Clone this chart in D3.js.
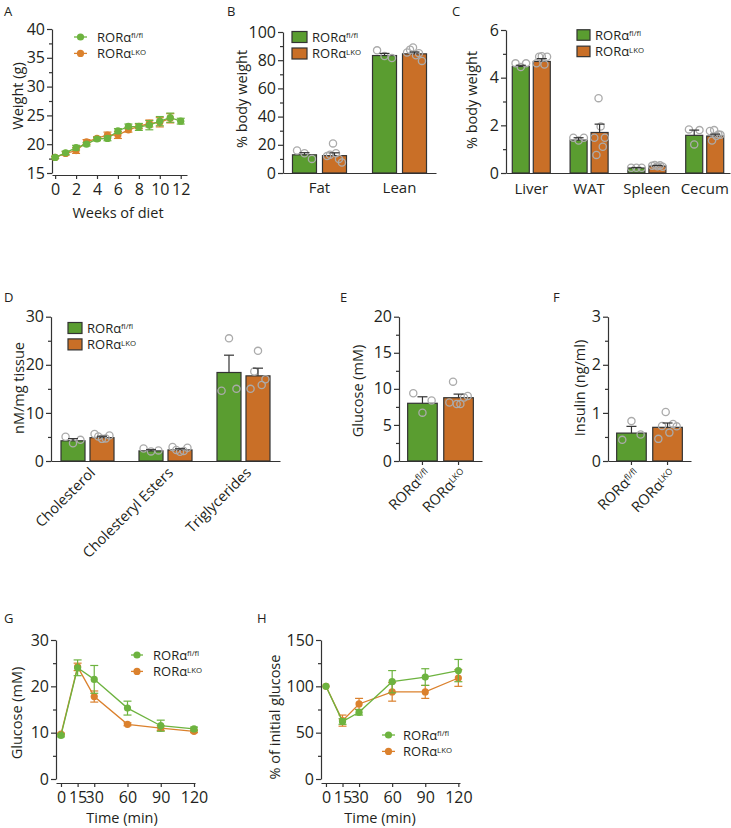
<!DOCTYPE html>
<html><head><meta charset="utf-8">
<script src="https://cdn.jsdelivr.net/npm/d3@7"></script>
<style>
body{margin:0;background:#fff}
svg text{font-family:"Open Sans",sans-serif;fill:#231f20}
.tick text{font-size:16px}
.axis path,.axis line{stroke:#333;stroke-width:1.2}
</style></head><body>
<svg id="c" width="731" height="828"></svg>
<script>
// ---------------- data ----------------
const genotypes = ["fl/fl", "LKO"];

// A: body weight
const weeks = [0,1,2,3,4,5,6,7,8,9,10,11,12];
const weightFl    = [17.7,18.5,19.4,20.0,20.9,21.0,22.3,23.1,23.0,23.3,24.0,24.6,24.0];
const weightFlErr = [0.2,0.3,0.4,0.3,0.3,0.4,0.4,0.4,0.6,0.8,0.8,0.8,0.5];
const weeksLko = [0,1,2,3,4,5,6,7,8,9,10,11];
const weightLko    = [17.7,18.4,18.9,20.4,21.0,21.6,21.6,22.5,23.1,23.6,23.8,24.5];
const weightLkoErr = [0.2,0.3,0.5,0.4,0.3,0.5,0.6,0.4,0.4,0.6,0.8,0.8];
const weekTicks = [0,2,4,6,8,10,12];
const weightTicks = [15,20,25,30,35,40];
const weightMinor = [17.5,22.5,27.5,32.5,37.5];

// B: body composition
const bodyCats = ["Fat","Lean"];
const bodyFl = [12.9, 83.3];
const bodyFlErr = [1.5, 1.5];
const bodyLko = [12.3, 84.5];
const bodyLkoErr = [2.0, 1.3];
const bodyFlPts = [[16,14,10],[87,83,81.5]];
const bodyLkoPts = [[12,13,21,14,10,7.5],[85.5,87.5,89,83.5,85,79.5]];
const bodyTicks = [0,20,40,60,80,100];
const bodyMinor = [10,30,50,70,90];

// C: organ weights
const organCats = ["Liver","WAT","Spleen","Cecum"];
const organFl = [4.47,1.38,0.21,1.58];
const organFlErr = [0.05,0.1,0.02,0.22];
const organLko = [4.68,1.7,0.29,1.55];
const organLkoErr = [0.12,0.35,0.03,0.08];
const organFlPts = [[4.6,4.45,4.6],[1.48,1.36,1.48],[0.22,0.22,0.22],[1.83,1.2,1.8]];
const organLkoPts = [[4.6,4.88,4.9,4.55,4.88],[1.48,0.76,3.14,1.95,1.1,1.48],[0.3,0.34,0.28,0.32,0.26],[1.76,1.36,1.8,1.55,1.62,1.6]];
const organTicks = [0,2,4,6];
const organMinor = [1,3,5];

// D: hepatic lipids
const lipidCats = ["Cholesterol","Cholesteryl Esters","Triglycerides"];
const lipidFl = [4.2,2.1,18.4];
const lipidFlErr = [0.45,0.25,3.6];
const lipidLko = [4.85,2.3,17.7];
const lipidLkoErr = [0.3,0.25,1.6];
const lipidFlPts = [[5.05,3.7,4.4],[2.6,2.0,2.2],[14.6,25.5,15.0]];
const lipidLkoPts = [[5.6,5.1,4.6,4.7,5.3],[2.9,2.3,1.9,2.1,2.75],[15.0,18.6,22.9,15.8,17.0]];
const lipidTicks = [0,10,20,30];
const lipidMinor = [5,15,25];

// E: fasting glucose
const gluVals = [8.0, 8.77];
const gluErr = [0.9, 0.5];
const gluPts = [[9.4,6.7,8.4],[8.1,11.0,7.9,7.9,8.8,9.0]];
const gluTicks = [0,5,10,15,20];
const gluMinor = [2.5,7.5,12.5,17.5];

// F: insulin
const insVals = [0.58, 0.70];
const insErr = [0.14, 0.09];
const insPts = [[0.44,0.83,0.55],[0.46,0.73,1.02,0.59,0.77,0.72]];
const insTicks = [0,1,2,3];
const insMinor = [0.5,1.5,2.5];

// G: GTT
const times = [0,15,30,60,90,120];
const gttFl = [9.4,24.0,21.5,15.3,11.5,10.8];
const gttFlErr = [0.3,1.7,3.0,1.5,1.2,0.4];
const gttLko = [9.7,24.2,17.8,11.8,11.0,10.3];
const gttLkoErr = [0.2,0.8,1.2,0.3,0.5,0.3];
const gttTicks = [0,10,20,30];
const gttMinor = [5,15,25];

// H: % of initial
const pctFl = [100,62,72,105,110,117];
const pctFlErr = [0,3,3,12,9,12];
const pctLko = [100,63,81,94,94,109];
const pctLkoErr = [0,6,6,10,7,9];
const pctTicks = [0,50,100,150];
const pctMinor = [25,75,125];

// ---------------- drawing ----------------
const svg = d3.select('#c');
const GREEN='#5a9d30', ORANGE='#c96f27', LGREEN='#6db33f', LORANGE='#db812d', DOT='#ababab', INK='#333';
const barFill=[GREEN,ORANGE], lineCol=[LGREEN,LORANGE];
const fmt = d3.format('~g');

function ror(t, sup){
  t.append('tspan').text('RORα');
  t.append('tspan').attr('font-size','0.6em').attr('dy','-0.45em').text(sup);
}
function panelLetter(l,x,y){ svg.append('text').attr('x',x).attr('y',y).attr('font-size',13).text(l); }
function yTitle(t,x,y){
  svg.append('text').attr('transform',`translate(${x},${y}) rotate(-90)`).attr('text-anchor','middle')
    .attr('dy','0.35em').attr('font-size',14.5).text(t);
}
function xTitle(t,x,y){
  svg.append('text').attr('x',x).attr('y',y).attr('text-anchor','middle').attr('dy','0.35em').attr('font-size',14.5).text(t);
}
function yAxis(y,x0,major,minor){
  const g=svg.append('g').attr('class','axis').attr('transform',`translate(${x0},0)`);
  g.call(d3.axisLeft(y).tickValues(major).tickFormat(fmt).tickSize(5).tickSizeOuter(0).tickPadding(2));
  g.append('g').call(d3.axisLeft(y).tickValues(minor).tickSize(3).tickFormat('')).select('.domain').remove();
  return g;
}
function barLegend(x,y,dy,bw,bh){
  genotypes.forEach((gt,k)=>{
    svg.append('rect').attr('x',x).attr('y',y+k*dy-bh/2).attr('width',bw).attr('height',bh)
      .attr('fill',barFill[k]).attr('stroke',INK).attr('stroke-width',1.2);
    const t=svg.append('text').attr('x',x+bw+5).attr('y',y+k*dy).attr('dy','0.38em').attr('font-size',13);
    ror(t,gt);
  });
}
function lineLegend(x0,x1,y,dy,tx){
  genotypes.forEach((gt,k)=>{
    const yy=y+k*dy;
    svg.append('line').attr('x1',x0).attr('x2',x1).attr('y1',yy).attr('y2',yy).attr('stroke',lineCol[k]).attr('stroke-width',1.3);
    svg.append('circle').attr('cx',(x0+x1)/2).attr('cy',yy).attr('r',3.6).attr('fill',lineCol[k]);
    const t=svg.append('text').attr('x',tx).attr('y',yy).attr('dy','0.38em').attr('font-size',13);
    ror(t,gt);
  });
}
function bar(cx,bw,y,v,e,pts,fill,y0){
  svg.append('rect').attr('x',cx-bw/2).attr('y',y(v)).attr('width',bw).attr('height',y0-y(v))
    .attr('fill',fill).attr('stroke',INK).attr('stroke-width',1.2);
  const n=pts.length, spread=bw*0.62;
  pts.forEach((p,j)=>{
    svg.append('circle').attr('cx',cx+(n>1?(j/(n-1)-0.5)*spread:0)).attr('cy',y(p)).attr('r',3.6)
      .attr('fill','none').attr('stroke',DOT).attr('stroke-width',1.3);
  });
  svg.append('line').attr('x1',cx).attr('x2',cx).attr('y1',y(v)).attr('y2',y(v+e)).attr('stroke',INK).attr('stroke-width',1.2);
  svg.append('line').attr('x1',cx-5).attr('x2',cx+5).attr('y1',y(v+e)).attr('y2',y(v+e)).attr('stroke',INK).attr('stroke-width',1.2);
}
function groupedBars(o){
  const y=d3.scaleLinear().domain([0,o.ymax]).range([o.y0,o.ytop]);
  const x=d3.scalePoint().domain(o.cats).range([o.x0,o.x1]).padding(o.pad);
  const sub=d3.scaleBand().domain([0,1]).range([-o.half,o.half]).paddingInner(o.inner);
  yAxis(y,o.x0,o.major,o.minor);
  svg.append('g').attr('class','axis').attr('transform',`translate(0,${o.y0})`)
    .call(d3.axisBottom(x).tickSize(0).tickSizeOuter(0).tickFormat(''));
  o.series.forEach((s,k)=>{
    o.cats.forEach((c,i)=>{
      bar(x(c)+sub(k)+sub.bandwidth()/2, sub.bandwidth(), y, s.vals[i], s.err[i], s.pts[i], barFill[k], o.y0);
    });
  });
  return x;
}
function singleBars(o){
  const y=d3.scaleLinear().domain([0,o.ymax]).range([o.y0,o.ytop]);
  const x=d3.scaleBand().domain(genotypes).range([o.x0,o.x1]).paddingInner(0.18).paddingOuter(0.24);
  yAxis(y,o.x0,o.major,o.minor);
  svg.append('g').attr('class','axis').attr('transform',`translate(0,${o.y0})`)
    .call(d3.axisBottom(x).tickSize(4).tickSizeOuter(0).tickFormat(''));
  genotypes.forEach((g,k)=>{
    bar(x(g)+x.bandwidth()/2, x.bandwidth(), y, o.vals[k], o.err[k], o.pts[k], barFill[k], o.y0);
    const t=svg.append('text').attr('text-anchor','end').attr('font-size',14.5)
      .attr('transform',`translate(${x(g)+x.bandwidth()/2+5},${o.y0+10}) rotate(-45)`).attr('dy','0.35em');
    ror(t,g);
  });
}
function linePanel(o){
  const x=d3.scaleLinear().domain(o.xDomain).range(o.xRange);
  const y=d3.scaleLinear().domain(o.yDomain).range(o.yRange);
  yAxis(y,o.xRange[0],o.major,o.minor);
  svg.append('g').attr('class','axis').attr('transform',`translate(0,${o.xAxisY})`)
    .call(d3.axisBottom(x).tickValues(o.xticks).tickSize(4).tickSizeOuter(0).tickPadding(5));
  o.series.slice().reverse().forEach(s=>{
    const line=d3.line().x((d,i)=>x(s.xs[i])).y(d=>y(d));
    svg.append('path').attr('d',line(s.vals)).attr('fill','none').attr('stroke',s.color).attr('stroke-width',1.3);
    s.vals.forEach((v,i)=>{
      const cx=x(s.xs[i]);
      if(s.err[i]>0){
        svg.append('line').attr('x1',cx).attr('x2',cx).attr('y1',y(v-s.err[i])).attr('y2',y(v+s.err[i])).attr('stroke',s.color).attr('stroke-width',1.2);
        [v-s.err[i],v+s.err[i]].forEach(e=>svg.append('line').attr('x1',cx-4).attr('x2',cx+4).attr('y1',y(e)).attr('y2',y(e)).attr('stroke',s.color).attr('stroke-width',1.2));
      }
      svg.append('circle').attr('cx',cx).attr('cy',y(v)).attr('r',3.6).attr('fill',s.color);
    });
  });
}

// ---- A ----
panelLetter('A',4,16);
linePanel({xDomain:[-0.3,12.6],xRange:[52,187],yDomain:[15,40],yRange:[173,29],xAxisY:175,
  xticks:weekTicks,major:weightTicks,minor:weightMinor,
  series:[{xs:weeks,vals:weightFl,err:weightFlErr,color:LGREEN},{xs:weeksLko,vals:weightLko,err:weightLkoErr,color:LORANGE}]});
lineLegend(74,87,37,16.4,97);
yTitle('Weight (g)',18,96);
xTitle('Weeks of diet',118,213);

// ---- B ----
panelLetter('B',227,16);
const xB=groupedBars({cats:bodyCats,x0:283,x1:436,pad:0.456,half:27,inner:0.2,ymax:100,y0:173,ytop:32,
  major:bodyTicks,minor:bodyMinor,
  series:[{vals:bodyFl,err:bodyFlErr,pts:bodyFlPts},{vals:bodyLko,err:bodyLkoErr,pts:bodyLkoPts}]});
bodyCats.forEach(c=>svg.append('text').attr('x',xB(c)).attr('y',188).attr('dy','0.35em').attr('text-anchor','middle').attr('font-size',15).text(c));
barLegend(292,37,16.5,15,11);
yTitle('% body weight',242,99);

// ---- C ----
panelLetter('C',452,16);
const xC=groupedBars({cats:organCats,x0:506,x1:730,pad:0.4375,half:19,inner:0.19,ymax:6,y0:173,ytop:30,
  major:organTicks,minor:organMinor,
  series:[{vals:organFl,err:organFlErr,pts:organFlPts},{vals:organLko,err:organLkoErr,pts:organLkoPts}]});
organCats.forEach(c=>svg.append('text').attr('x',xC(c)).attr('y',189).attr('dy','0.35em').attr('text-anchor','middle').attr('font-size',15).text(c));
barLegend(577,35,16.4,13,10.5);
yTitle('% body weight',472,100);

// ---- D ----
panelLetter('D',4,302);
const xD=groupedBars({cats:lipidCats,x0:51,x1:280,pad:0.468,half:26.5,inner:0.172,ymax:30,y0:461,ytop:316.7,
  major:lipidTicks,minor:lipidMinor,
  series:[{vals:lipidFl,err:lipidFlErr,pts:lipidFlPts},{vals:lipidLko,err:lipidLkoErr,pts:lipidLkoPts}]});
lipidCats.forEach(c=>svg.append('text').attr('text-anchor','end').attr('font-size',14.5)
  .attr('transform',`translate(${xD(c)+5},${470}) rotate(-45)`).attr('dy','0.35em').text(c));
barLegend(68,328,16.4,14,11);
yTitle('nM/mg tissue',19,388);

// ---- E ----
panelLetter('E',340,302);
singleBars({x0:399,x1:482,ymax:20,y0:461,ytop:316.7,major:gluTicks,minor:gluMinor,vals:gluVals,err:gluErr,pts:gluPts});
yTitle('Glucose (mM)',358,391);

// ---- F ----
panelLetter('F',553,302);
singleBars({x0:608,x1:691,ymax:3,y0:461,ytop:316.7,major:insTicks,minor:insMinor,vals:insVals,err:insErr,pts:insPts});
yTitle('Insulin (ng/ml)',580,388);

// ---- G ----
panelLetter('G',4,623);
linePanel({xDomain:[-4.5,120.9],xRange:[56,195],yDomain:[0,30],yRange:[779,640],xAxisY:783,
  xticks:times,major:gttTicks,minor:gttMinor,
  series:[{xs:times,vals:gttFl,err:gttFlErr,color:LGREEN},{xs:times,vals:gttLko,err:gttLkoErr,color:LORANGE}]});
lineLegend(131,143,655,16.4,153);
yTitle('Glucose (mM)',17,713);
xTitle('Time (min)',122,818);

// ---- H ----
panelLetter('H',257,623);
linePanel({xDomain:[-4.5,121.5],xRange:[321,460],yDomain:[0,150],yRange:[779,640],xAxisY:783,
  xticks:times,major:pctTicks,minor:pctMinor,
  series:[{xs:times,vals:pctFl,err:pctFlErr,color:LGREEN},{xs:times,vals:pctLko,err:pctLkoErr,color:LORANGE}]});
lineLegend(382,395,735,16.4,403);
yTitle('% of initial glucose',275,717);
xTitle('Time (min)',380,818);
</script>
</body></html>
